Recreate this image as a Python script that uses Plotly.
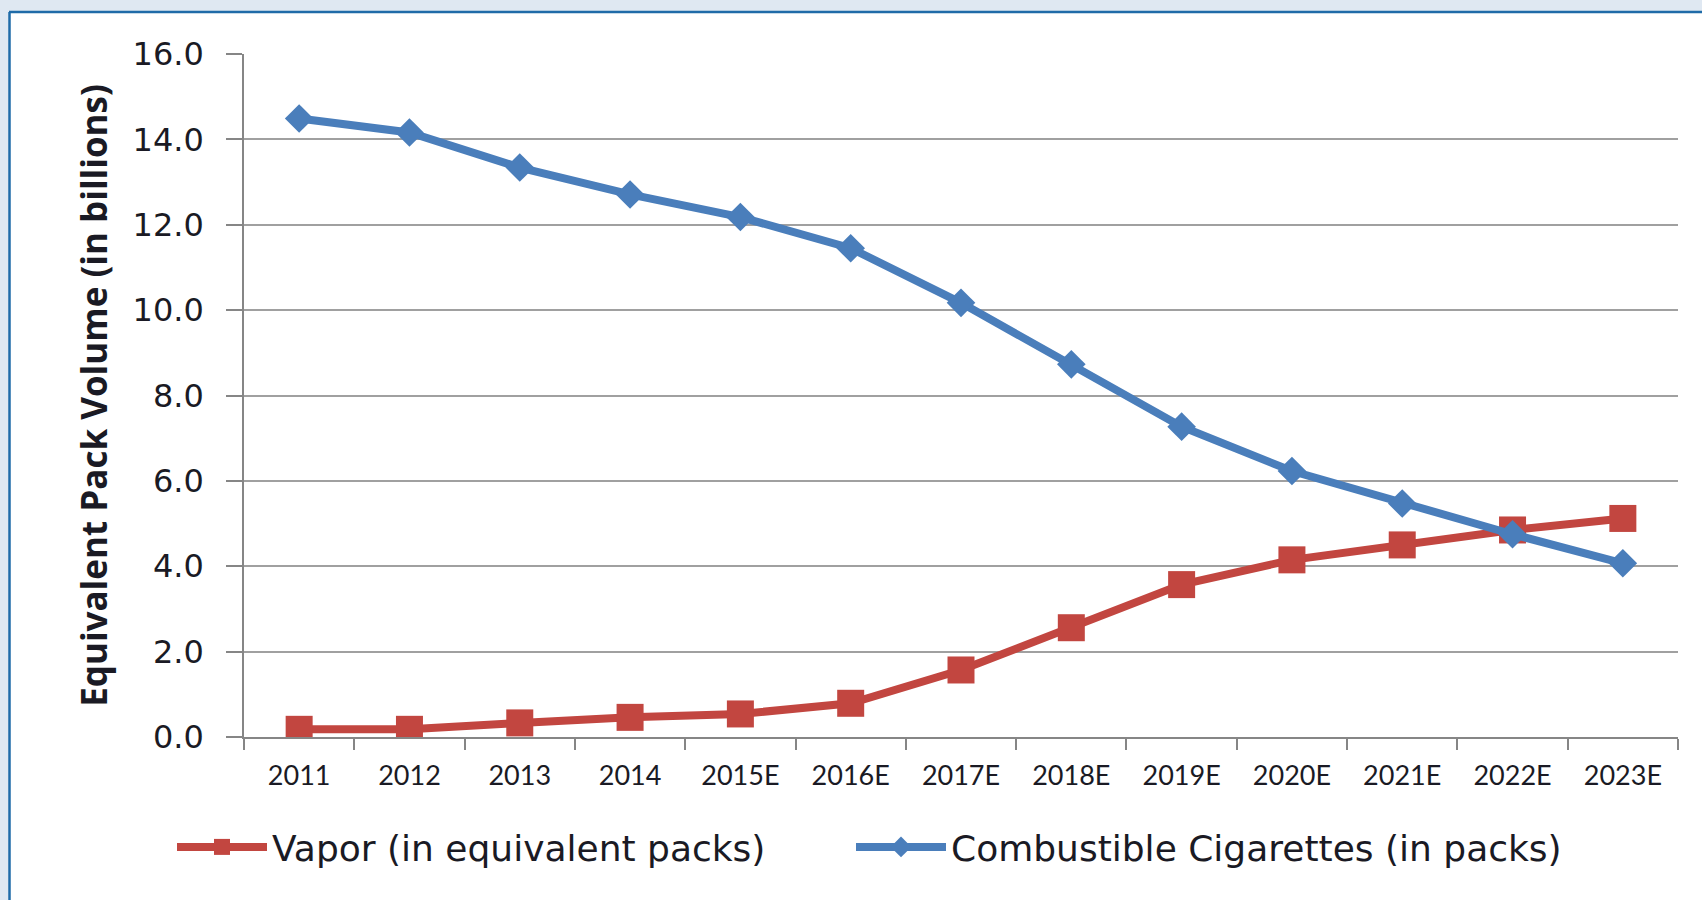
import plotly.graph_objects as go

# Category labels along the horizontal axis
years = ["2011", "2012", "2013", "2014", "2015E", "2016E", "2017E",
         "2018E", "2019E", "2020E", "2021E", "2022E", "2023E"]

# Equivalent pack volume, billions
vapor = [0.18, 0.18, 0.33, 0.46, 0.54, 0.79, 1.57, 2.56, 3.57, 4.15, 4.50, 4.85, 5.12]
combustible = [14.49, 14.16, 13.34, 12.71, 12.18, 11.45, 10.17, 8.73, 7.27, 6.23, 5.47, 4.75, 4.07]

y_ticks = [0, 2, 4, 6, 8, 10, 12, 14, 16]

W, H = 1702, 900
ML, MR, MT, MB = 244, 24, 54, 163
PW, PH = W - ML - MR, H - MT - MB

RED = "#C24640"
BLUE = "#4A7EBB"
GRID = "#A0A0A0"
AXIS = "#868686"
TEXT = "#1A1A24"


def px_x(x):
    return (x - ML) / PW


def px_y(y):
    return (H - MB - y) / PH


fig = go.Figure()
fig.add_trace(go.Scatter(
    x=years, y=vapor, name="Vapor (in equivalent packs)",
    mode="lines+markers",
    line=dict(color=RED, width=8),
    marker=dict(symbol="square", size=27, color=RED),
    legend="legend",
))
fig.add_trace(go.Scatter(
    x=years, y=combustible, name="Combustible Cigarettes (in packs)",
    mode="lines+markers",
    line=dict(color=BLUE, width=8),
    marker=dict(symbol="diamond", size=22, color=BLUE),
    legend="legend2",
))

shapes = [
    # white card with a blue rule on its top and left edges
    dict(type="rect", xref="paper", yref="paper", layer="below",
         x0=px_x(10), x1=px_x(W + 5), y0=px_y(H + 5), y1=px_y(13),
         fillcolor="white", line=dict(width=0)),
    dict(type="line", xref="paper", yref="paper", layer="below",
         x0=px_x(9), x1=px_x(W + 5), y0=px_y(12), y1=px_y(12),
         line=dict(color="#1F6BA8", width=2.5)),
    dict(type="line", xref="paper", yref="paper", layer="below",
         x0=px_x(9.5), x1=px_x(9.5), y0=px_y(12), y1=px_y(H + 5),
         line=dict(color="#1F6BA8", width=2.5)),
]

legend_style = dict(
    orientation="h", xanchor="left", y=px_y(847), yanchor="middle",
    font=dict(family="DejaVu Sans", size=36, color=TEXT),
    itemwidth=90, bgcolor="rgba(0,0,0,0)",
)

fig.update_layout(
    width=W, height=H,
    margin=dict(l=ML, r=MR, t=MT, b=MB, autoexpand=False),
    paper_bgcolor="#DFE8F2",
    plot_bgcolor="rgba(0,0,0,0)",
    font=dict(family="DejaVu Sans", color=TEXT),
    shapes=shapes,
    showlegend=True,
    legend=dict(x=px_x(172), **legend_style),
    legend2=dict(x=px_x(851), **legend_style),
    xaxis=dict(
        type="category", categoryorder="array", categoryarray=years,
        range=[-0.5, len(years) - 0.5],
        showgrid=False, showline=True, linecolor=AXIS, linewidth=1.5,
        ticks="outside", tickson="boundaries", ticklen=11,
        tickcolor=AXIS, tickwidth=1.5,
        tickfont=dict(family="Lato", size=27, color=TEXT),
        ticklabelstandoff=14,
        zeroline=False, fixedrange=True,
    ),
    yaxis=dict(
        range=[0, 16], tickvals=y_ticks,
        ticktext=[f"{v:.1f}" for v in y_ticks],
        showgrid=True, gridcolor=GRID, gridwidth=1.5,
        showline=True, linecolor=AXIS, linewidth=1.5,
        ticks="outside", ticklen=16, tickcolor=AXIS, tickwidth=1.5,
        tickfont=dict(family="DejaVu Sans", size=32, color=TEXT),
        ticklabelstandoff=16,
        zeroline=False, fixedrange=True,
        title=dict(text="Equivalent Pack Volume (in billions)",
                   font=dict(family="Open Sans", size=35, color=TEXT, weight="bold"),
                   standoff=14),
    ),
)

fig.write_html("out.html")
